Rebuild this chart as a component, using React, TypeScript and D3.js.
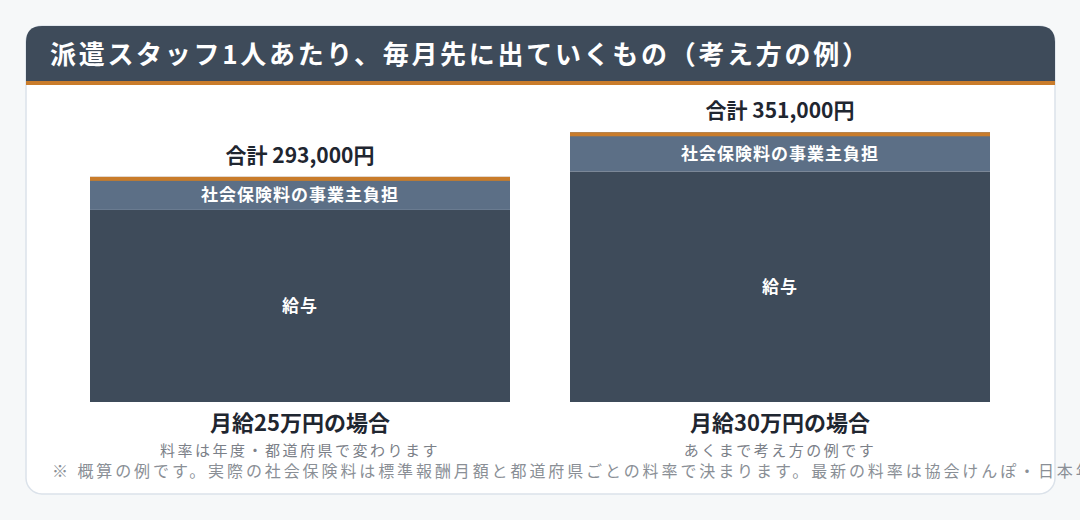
import React, { useEffect, useRef } from 'react';
import * as d3 from 'd3';

// data
const cases = ['月給25万円の場合', '月給30万円の場合'];
const notes = ['料率は年度・都道府県で変わります', 'あくまで考え方の例です'];
const salary = [250000, 300000];
const employerInsurance = [43000, 51000];
const segmentLabels = ['給与', '社会保険料の事業主負担'];

const TITLE = '派遣スタッフ1人あたり、毎月先に出ていくもの（考え方の例）';
const FOOTNOTE =
  '※ 概算の例です。実際の社会保険料は標準報酬月額と都道府県ごとの料率で決まります。最新の料率は協会けんぽ・日本年金機構の公表資料をご確認ください。';

const W = 1080;
const H = 520;
const FONT = '"Noto Sans CJK JP", "Noto Sans", sans-serif';
const COLORS = {
  page: '#f6f8f9',
  card: '#ffffff',
  border: '#dbe2ea',
  header: '#3e4b5a',
  accent: '#c97c2b',
  salary: '#3e4b5a',
  insurance: '#5c6f86',
  text: '#1f2630',
  sub: '#7b8088',
  foot: '#8a8f96',
};

export default function App() {
  const svgRef = useRef<SVGSVGElement>(null);

  useEffect(() => {
    if (!svgRef.current) return;
    const svg = d3.select(svgRef.current);
    svg.selectAll('*').remove();

    const card = { x: 26, y: 26, w: 1029, h: 468, r: 16 };
    const headerH = 55;

    // page + card
    svg.append('rect').attr('width', W).attr('height', H).attr('fill', COLORS.page);
    svg.append('rect')
      .attr('x', card.x).attr('y', card.y)
      .attr('width', card.w).attr('height', card.h)
      .attr('rx', card.r)
      .attr('fill', COLORS.card)
      .attr('stroke', COLORS.border)
      .attr('stroke-width', 1.5);

    // header: rounded top, square bottom
    const hx0 = card.x, hx1 = card.x + card.w, hy0 = card.y, hy1 = card.y + headerH, r = card.r;
    svg.append('path')
      .attr('d', `M${hx0},${hy1} L${hx0},${hy0 + r} Q${hx0},${hy0} ${hx0 + r},${hy0} L${hx1 - r},${hy0} Q${hx1},${hy0} ${hx1},${hy0 + r} L${hx1},${hy1} Z`)
      .attr('fill', COLORS.header);
    svg.append('rect')
      .attr('x', hx0).attr('y', hy1)
      .attr('width', card.w).attr('height', 4)
      .attr('fill', COLORS.accent);

    svg.append('text')
      .attr('x', 50).attr('y', 64)
      .attr('fill', '#fff')
      .attr('font-family', FONT)
      .attr('font-size', 26)
      .attr('font-weight', 700)
      .attr('letter-spacing', 2.7)
      .text(TITLE);

    // scales
    const x = d3.scaleBand<string>()
      .domain(cases)
      .range([30, 1050])
      .paddingInner(0.125)
      .paddingOuter(0.125);
    const y = d3.scaleLinear().domain([0, 380000]).range([402, 110]);

    const rows = cases.map((c, i) => ({
      c,
      note: notes[i],
      salary: salary[i],
      ins: employerInsurance[i],
      total: salary[i] + employerInsurance[i],
    }));

    const g = svg.selectAll('.bar').data(rows).enter().append('g').attr('class', 'bar');

    // salary segment
    g.append('rect')
      .attr('x', d => x(d.c)!)
      .attr('y', d => y(d.salary))
      .attr('width', x.bandwidth())
      .attr('height', d => y(0) - y(d.salary))
      .attr('fill', COLORS.salary);

    // employer insurance segment
    g.append('rect')
      .attr('x', d => x(d.c)!)
      .attr('y', d => y(d.total))
      .attr('width', x.bandwidth())
      .attr('height', d => y(d.salary) - y(d.total))
      .attr('fill', COLORS.insurance);

    // orange stripe on top
    g.append('rect')
      .attr('x', d => x(d.c)!)
      .attr('y', d => y(d.total))
      .attr('width', x.bandwidth())
      .attr('height', 4)
      .attr('fill', COLORS.accent);

    const cx = (d: { c: string }) => x(d.c)! + x.bandwidth() / 2;

    g.append('text')
      .attr('x', cx)
      .attr('y', d => (y(d.salary) + y(0)) / 2)
      .attr('dy', '0.35em')
      .attr('text-anchor', 'middle')
      .attr('fill', '#fff')
      .attr('font-family', FONT)
      .attr('font-size', 17)
      .attr('font-weight', 700)
      .attr('letter-spacing', 1)
      .text(segmentLabels[0]);

    g.append('text')
      .attr('x', cx)
      .attr('y', d => (y(d.total) + 4 + y(d.salary)) / 2)
      .attr('dy', '0.35em')
      .attr('text-anchor', 'middle')
      .attr('fill', '#fff')
      .attr('font-family', FONT)
      .attr('font-size', 17)
      .attr('font-weight', 700)
      .attr('letter-spacing', 1)
      .text(segmentLabels[1]);

    // total above bar
    g.append('text')
      .attr('x', cx)
      .attr('y', d => y(d.total) - 14)
      .attr('text-anchor', 'middle')
      .attr('fill', COLORS.text)
      .attr('font-family', FONT)
      .attr('font-size', 21)
      .attr('font-weight', 700)
      .text(d => `合計 ${d3.format(',')(d.total)}円`);

    // category labels
    g.append('text')
      .attr('x', cx)
      .attr('y', 431)
      .attr('text-anchor', 'middle')
      .attr('fill', COLORS.text)
      .attr('font-family', FONT)
      .attr('font-size', 22)
      .attr('font-weight', 700)
      .text(d => d.c);

    g.append('text')
      .attr('x', cx)
      .attr('y', 456)
      .attr('text-anchor', 'middle')
      .attr('fill', COLORS.sub)
      .attr('font-family', FONT)
      .attr('font-size', 15)
      .attr('letter-spacing', 2.5)
      .text(d => d.note);

    svg.append('text')
      .attr('x', 52).attr('y', 477)
      .attr('fill', COLORS.foot)
      .attr('font-family', FONT)
      .attr('font-size', 16)
      .attr('letter-spacing', 2.9)
      .text(FOOTNOTE);
  }, []);

  return (
    <svg
      ref={svgRef}
      width={W}
      height={H}
      style={{ position: 'fixed', left: 0, top: 0, display: 'block' }}
    />
  );
}
